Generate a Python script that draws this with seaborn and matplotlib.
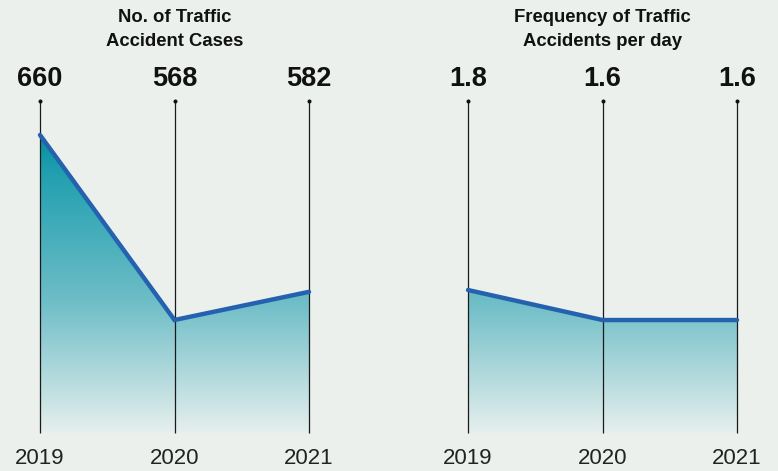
import numpy as np
import pandas as pd
import matplotlib
matplotlib.use("Agg")
import matplotlib.pyplot as plt
from matplotlib.colors import LinearSegmentedColormap
import seaborn as sns

# ---- data ----
years = [2019, 2020, 2021]
year_labels = ["2019", "2020", "2021"]
cases = [660, 568, 582]
cases_labels = ["660", "568", "582"]
freq = [1.8, 1.6, 1.6]
freq_labels = ["1.8", "1.6", "1.6"]
titles = ["No. of Traffic\nAccident Cases", "Frequency of Traffic\nAccidents per day"]

BG = "#ebf0ed"
LINE = "#2462b0"

sns.set_theme(style="white")
plt.rcParams["font.family"] = ["Liberation Sans", "DejaVu Sans"]

W, H = 778, 471
fig = plt.figure(figsize=(W / 100, H / 100), dpi=100)
fig.patch.set_facecolor(BG)

ax_w = 269 / W
ax_b = (H - 433) / H
ax_h = 332 / H
ax1 = fig.add_axes([40 / W, ax_b, ax_w, ax_h])
ax2 = fig.add_axes([468 / W, ax_b, ax_w, ax_h])

cmap = LinearSegmentedColormap.from_list(
    "tealgrad",
    [(0.0, "#e6efed"), (0.40, "#6dbdc7"), (0.78, "#22a0b0"), (0.9, "#068fa0"), (1.0, "#068fa0")],
)

def panel(ax, vals, val_labels, ylim, title, title_x):
    df = pd.DataFrame({"year": years, "value": vals})
    ax.set_facecolor(BG)
    ax.set_xlim(years[0], years[-1])
    ax.set_ylim(*ylim)
    # gradient fill under line
    poly = ax.fill_between(df["year"], df["value"], ylim[0], color="none", lw=0)
    grad = np.linspace(0, 1, 256).reshape(-1, 1)
    im = ax.imshow(grad, cmap=cmap, origin="lower", aspect="auto",
                   extent=[0, 1, 0, 1], transform=ax.transAxes, zorder=1)
    path = poly.get_paths()[0]
    im.set_clip_path(path, transform=ax.transData)
    # vertical guide lines
    ax.vlines(df["year"], ylim[0], ylim[1], color="#1a1a1a", lw=0.9, zorder=2,
              clip_on=False)
    ax.plot(df["year"], [ylim[1]] * len(years), "o", color="#111111", ms=1.9,
            clip_on=False, zorder=3)
    # main line
    sns.lineplot(data=df, x="year", y="value", ax=ax, color=LINE, lw=3.2,
                 zorder=4, solid_capstyle="round", solid_joinstyle="miter")
    ax.lines[-1].set_clip_on(False)
    for x, lab in zip(years, val_labels):
        ax.annotate(lab, xy=(x, 1.0), xycoords=("data", "axes fraction"),
                    xytext=(0, 15.5), textcoords="offset points",
                    ha="center", va="center", fontsize=19.5, fontweight="bold",
                    color="#111111")
    ax.set_xticks(years)
    ax.set_xticklabels(year_labels, fontsize=16, color="#222222")
    ax.tick_params(axis="x", length=0, pad=11)
    ax.set_yticks([])
    ax.set_xlabel("")
    ax.set_ylabel("")
    for s in ax.spines.values():
        s.set_visible(False)
    fig.text(title_x, 1 - 29.5 / H, title, ha="center", va="center",
             fontsize=13.3, fontweight="bold", color="#111111", linespacing=1.55)

panel(ax1, cases, cases_labels, (511.8, 676.9), titles[0], 174.5 / W)
panel(ax2, freq, freq_labels, (0.847, 3.06), titles[1], 602.5 / W)

fig.savefig("out.png", dpi=100, facecolor=BG)
